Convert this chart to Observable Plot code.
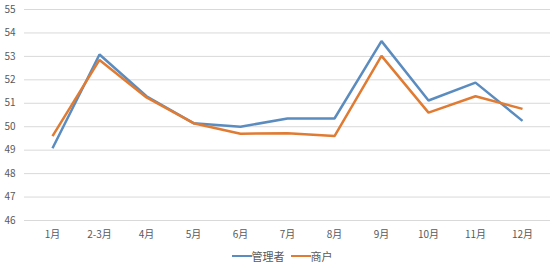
<!DOCTYPE html>
<html><head><meta charset="utf-8">
<script src="https://cdn.jsdelivr.net/npm/d3@7"></script>
<script src="https://cdn.jsdelivr.net/npm/@observablehq/plot@0.6"></script>
<style>
body{margin:0;background:#fff;font-family:"Noto Sans CJK SC","Noto Sans",sans-serif;}
#legend{display:flex;justify-content:center;align-items:center;gap:6px;font-size:11px;color:#595959;height:22px;margin-left:10px}
.sw{display:inline-block;width:20px;height:2.5px;vertical-align:middle}
.it{display:flex;align-items:center}
</style></head>
<body><div id="chart"></div>
<div id="legend"></div>
<script>
const months = ["1月","2-3月","4月","5月","6月","7月","8月","9月","10月","11月","12月"];
const manager = [49.08,53.08,51.3,50.15,50.0,50.35,50.35,53.65,51.12,51.88,50.25];
const merchant = [49.6,52.85,51.25,50.15,49.7,49.72,49.6,53.02,50.6,51.3,50.76];
const seriesNames = ["管理者","商户"];
const colors = ["#5B8CBF","#E07B33"];
const yTicks = [46,47,48,49,50,51,52,53,54,55];

const data = [];
months.forEach((m,i)=>{
  data.push({month:m, value:manager[i], series:seriesNames[0]});
  data.push({month:m, value:merchant[i], series:seriesNames[1]});
});

const chart = Plot.plot({
  width:554, height:245,
  marginTop:9, marginBottom:25, marginLeft:24, marginRight:4,
  style:{fontFamily:'"Noto Sans CJK SC","Noto Sans",sans-serif', fontSize:"10px", color:"#595959"},
  x:{type:"point", domain:months, range:[48,526], padding:0, label:null},
  y:{domain:[46,55], label:null},
  color:{domain:seriesNames, range:colors},
  marks:[
    Plot.ruleY(yTicks,{stroke:"#d9d9d9", strokeWidth:1}),
    Plot.axisY({ticks:yTicks, tickSize:0, tickPadding:9, label:null, fill:"#595959"}),
    Plot.axisX({tickSize:0, tickPadding:10, label:null, fill:"#595959"}),
    Plot.line(data,{x:"month", y:"value", z:"series", stroke:"series", strokeWidth:2.5, strokeLinejoin:"miter", strokeLinecap:"butt"})
  ]
});
document.getElementById("chart").appendChild(chart);

const lg = document.getElementById("legend");
seriesNames.forEach((s,i)=>{
  const it = document.createElement("span"); it.className="it";
  const sw = document.createElement("span"); sw.className="sw"; sw.style.background=colors[i];
  const t = document.createElement("span"); t.textContent=s;
  it.appendChild(sw); it.appendChild(t); lg.appendChild(it);
});
</script></body></html>
